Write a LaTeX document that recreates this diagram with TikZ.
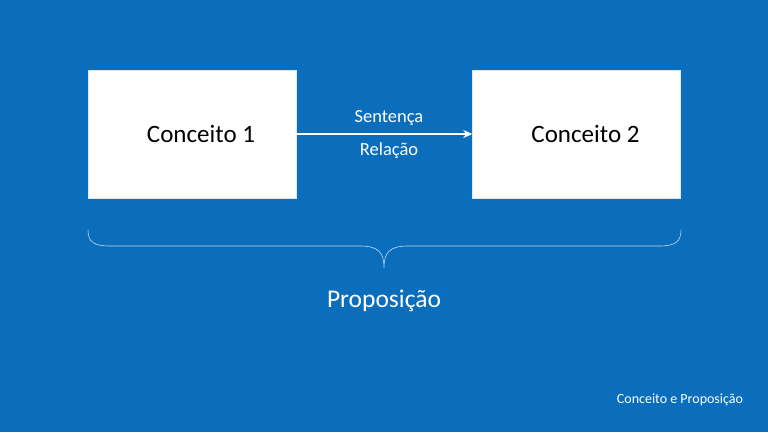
\documentclass[tikz,border=0pt]{standalone}
\usepackage{fontspec}
\setmainfont{Carlito}
\usetikzlibrary{arrows.meta}
\definecolor{bg}{HTML}{0A6EBD}
\begin{document}
\begin{tikzpicture}[x=1pt,y=-1pt,
 box/.style={draw=white!80!gray,fill=white,minimum width=208pt,minimum height=128pt,font=\fontsize{25}{30}\selectfont,text=black},
 lbl/.style={text=white,font=\fontsize{18.5}{22}\selectfont}]
\fill[bg] (0,0) rectangle (768,432);
\useasboundingbox (0,0) rectangle (768,432);
\node[box] (c1) at (192,134) {\hspace*{18pt}Conceito 1};
\node[box] (c2) at (576.5,134) {\hspace*{18pt}Conceito 2};
\draw[white,line width=1.5pt,-{Stealth[length=9pt,width=8pt]}] (c1.east) -- (c2.west);
\node[lbl] (s) at (389,118) {Sentença};
\node[lbl] (r) at (389,151) {Relação};
\draw[white!75!bg,line width=0.6pt] (88,230) .. controls (88,242) and (94,246) .. (110,246) -- (360,246) .. controls (378,246) and (384,252) .. (384,268) .. controls (384,252) and (390,246) .. (408,246) -- (659,246) .. controls (675,246) and (681,242) .. (681,230);
\node[text=white,font=\fontsize{25.5}{30}\selectfont] (p) at (384,301) {Proposição};
\node[text=white,font=\fontsize{14}{17}\selectfont] (f) at (680,400) {Conceito e Proposição};
\end{tikzpicture}
\end{document}
